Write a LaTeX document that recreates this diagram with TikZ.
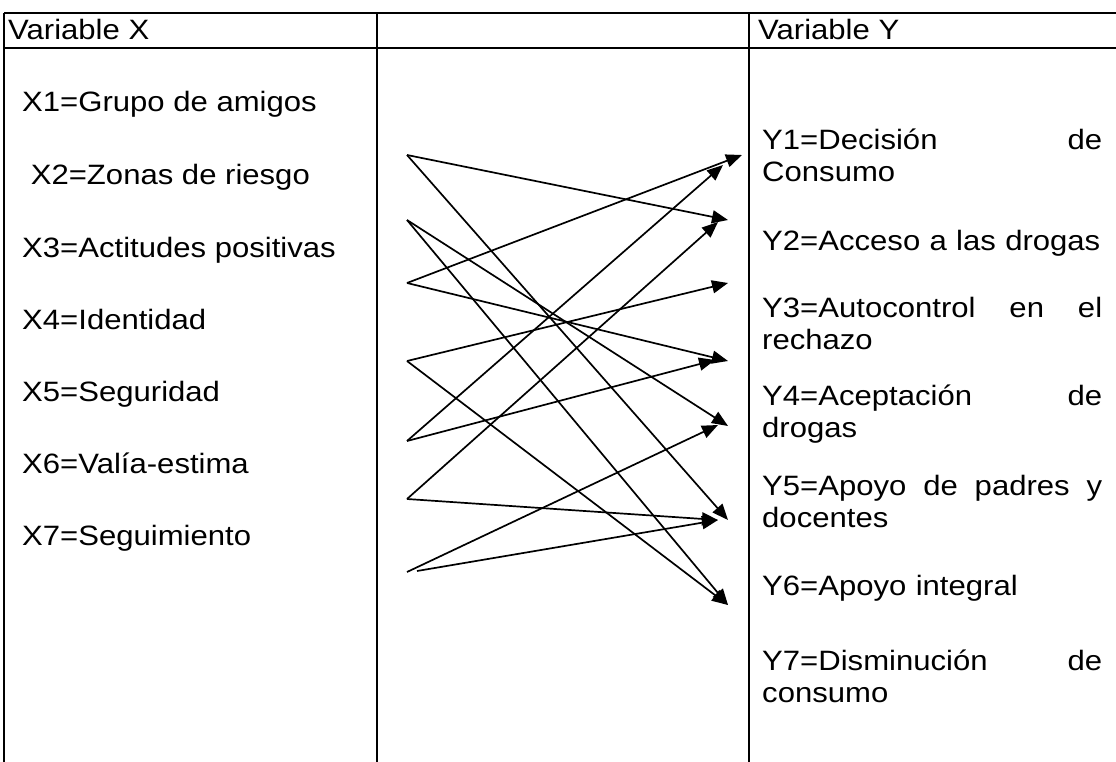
\documentclass[tikz,border=0pt]{standalone}
\usepackage{fontspec}
\setmainfont{Liberation Sans}[FakeStretch=1.11]
\usetikzlibrary{arrows.meta}
\begin{document}
\begin{tikzpicture}[x=1pt,y=-1pt,
  grid/.style={line width=1.8pt},
  conn/.style={line width=1.7pt,-{Triangle[length=16pt,width=13pt]}},
  lbl/.style={anchor=base west,inner sep=0pt,font=\fontsize{28}{34}\selectfont},
  ylbl/.style={lbl,text width=340pt}
]
\useasboundingbox (0,0) rectangle (1116,762);
% table
\draw[grid] (4,13) -- (1116,13);
\draw[grid] (4,48) -- (1116,48);
\draw[grid] (4,13) -- (4,762);
\draw[grid] (377,13) -- (377,762);
\draw[grid] (749,13) -- (749,762);
% headers
\node[lbl] (hx) at (8,40) {Variable X};
\node[lbl] (hy) at (758,40) {Variable Y};
% left column
\node[lbl] (x1) at (22,112) {X1=Grupo de amigos};
\node[lbl] (x2) at (22,185) {\ X2=Zonas de riesgo};
\node[lbl] (x3) at (22,257) {X3=Actitudes positivas};
\node[lbl] (x4) at (22,329) {X4=Identidad};
\node[lbl] (x5) at (22,401) {X5=Seguridad};
\node[lbl] (x6) at (22,473) {X6=Valía-estima};
\node[lbl] (x7) at (22,545) {X7=Seguimiento};
% right column
\node[ylbl] (y1) at (762,150) {Y1=Decisión\hfill de};
\node[ylbl] (y1b) at (762,182) {Consumo};
\node[ylbl] (y2) at (762,250) {Y2=Acceso a las drogas};
\node[ylbl] (y3) at (762,317) {Y3=Autocontrol\hfill en\hfill el};
\node[ylbl] (y3b) at (762,349) {rechazo};
\node[ylbl] (y4) at (762,405) {Y4=Aceptación\hfill de};
\node[ylbl] (y4b) at (762,437) {drogas};
\node[ylbl] (y5) at (762,495) {Y5=Apoyo\hfill de\hfill padres\hfill y};
\node[ylbl] (y5b) at (762,527) {docentes};
\node[ylbl] (y6) at (762,595) {Y6=Apoyo integral};
\node[ylbl] (y7) at (762,670) {Y7=Disminución\hfill de};
\node[ylbl] (y7b) at (762,702) {consumo};
% start points
\coordinate (sA) at (407,155);
\coordinate (sB) at (407,220);
\coordinate (sC) at (407,283);
\coordinate (sD) at (407,361);
\coordinate (sE) at (407,441);
\coordinate (sF) at (407,499);
\coordinate (sG) at (407,572);
\coordinate (sG2) at (417,571);
% end points
\coordinate (t1a) at (742,155);
\coordinate (t1b) at (723,165);
\coordinate (t2a) at (728,220);
\coordinate (t2b) at (718,222);
\coordinate (t3) at (728,283);
\coordinate (t4a) at (728,361);
\coordinate (t4b) at (715,360);
\coordinate (t5a) at (728,426);
\coordinate (t5b) at (718,425);
\coordinate (t6a) at (728,520);
\coordinate (t6b) at (718,520);
\coordinate (t7) at (728,605);
% connectors
\draw[conn] (sA) -- (t2a);
\draw[conn] (sA) -- (t6a);
\draw[conn] (sB) -- (t5a);
\draw[conn] (sB) -- (t7);
\draw[conn] (sC) -- (t1a);
\draw[conn] (sC) -- (t4a);
\draw[conn] (sD) -- (t3);
\draw[conn] (sD) -- (t7);
\draw[conn] (sE) -- (t1b);
\draw[conn] (sE) -- (t4b);
\draw[conn] (sF) -- (t2b);
\draw[conn] (sF) -- (t6b);
\draw[conn] (sG) -- (t5b);
\draw[conn] (sG2) -- (t6b);
\end{tikzpicture}
\end{document}
